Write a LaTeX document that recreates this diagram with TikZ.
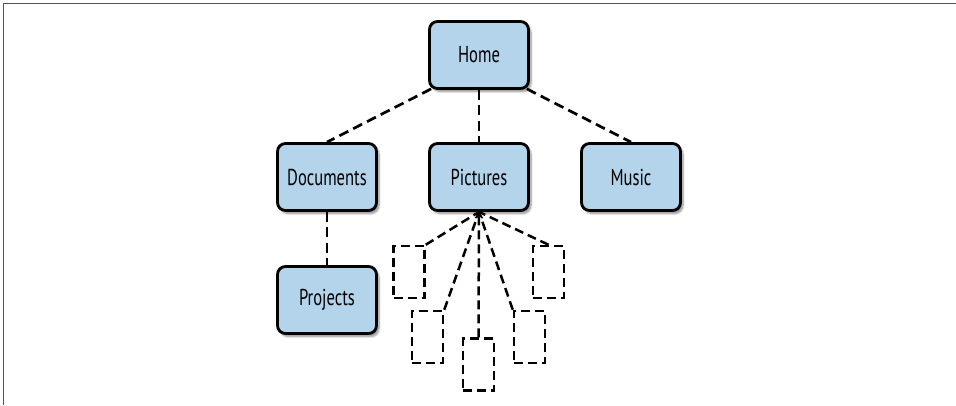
\documentclass[tikz,border=0pt]{standalone}
\usepackage{fontspec}
\setmainfont{PT Sans}[FakeStretch=0.72]
\usetikzlibrary{shadows.blur,arrows.meta}
\definecolor{boxblue}{HTML}{B3D4EA}
\definecolor{framegray}{HTML}{555555}
\tikzset{
  dirbox/.style={draw=black, line width=2.8pt, rounded corners=8pt, fill=boxblue,
    minimum width=99pt, minimum height=67pt, inner sep=0pt,
    font=\fontsize{23}{26}\selectfont,
    blur shadow={shadow xshift=2.5pt, shadow yshift=-3pt, shadow blur steps=6, shadow blur extra rounding=2pt, shadow opacity=45}},
  ghost/.style={draw=black, line width=2.5pt, dash pattern=on 9pt off 5pt,
    minimum width=31pt, minimum height=52pt, inner sep=0pt},
  link/.style={draw=black, line width=2.7pt, dash pattern=on 10pt off 5.5pt},
  thinlink/.style={draw=black, line width=2.5pt, dash pattern=on 9pt off 5pt},
}
\begin{document}
\begin{tikzpicture}[x=1pt,y=-1pt]
\useasboundingbox (0,0) rectangle (956,405);
\draw[framegray, line width=1.3pt] (3.5,405) -- (3.5,3.5) -- (956,3.5);

\node[dirbox] (home) at (479,55) {Home};
\node[dirbox] (docs) at (327,177) {Documents};
\node[dirbox] (pics) at (479,177) {Pictures};
\node[dirbox] (music) at (631,177) {Music};
\node[dirbox] (proj) at (327,300) {Projects};

\node[ghost] (g1) at (409,272) {};
\node[ghost] (g2) at (427.5,337) {};
\node[ghost] (g3) at (478.5,364.5) {};
\node[ghost] (g4) at (529.5,337) {};
\node[ghost] (g5) at (548.5,272) {};

\draw[link] (home.south west) ++(3,-1) -- (docs.north);
\draw[link] (home.south) -- (pics.north);
\draw[link] (home.south east) ++(-3,-1) -- (music.north);
\draw[link] (docs.south) -- (proj.north);

\draw[thinlink] (g1.north east) -- (pics.south);
\draw[thinlink] (g2.north east) -- (pics.south);
\draw[thinlink, -{Straight Barb[length=5pt,width=7pt,line width=1.5pt]}] (g3.north) -- (pics.south);
\draw[thinlink] (g4.north west) -- (pics.south);
\draw[thinlink] (g5.north) -- (pics.south);
\end{tikzpicture}
\end{document}
